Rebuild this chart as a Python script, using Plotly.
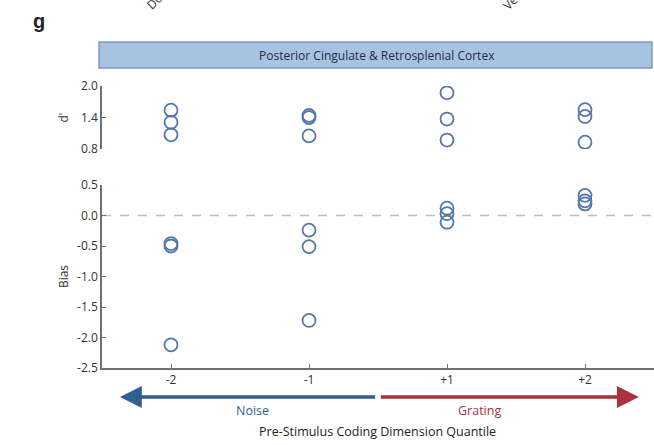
import plotly.graph_objects as go

# Quantile categories along the pre-stimulus coding dimension
quantiles = ["-2", "-1", "+1", "+2"]

# d' per session, grouped by quantile
dprime_q = ["-2", "-2", "-2", "-1", "-1", "-1", "+1", "+1", "+1", "+2", "+2", "+2"]
dprime_vals = [1.54, 1.31, 1.07, 1.44, 1.40, 1.05, 1.87, 1.37, 0.97, 1.55, 1.42, 0.93]

# Bias per session, grouped by quantile
bias_q = ["-2", "-2", "-2", "-1", "-1", "-1", "+1", "+1", "+1", "+2", "+2", "+2"]
bias_vals = [-0.46, -0.50, -2.12, -0.24, -0.51, -1.72, 0.12, 0.03, -0.11, 0.33, 0.24, 0.19]

dprime_ticks = [0.8, 1.4, 2.0]
bias_ticks = [-2.5, -2.0, -1.5, -1.0, -0.5, 0.0, 0.5]

W, H = 654, 445
FONT = "Open Sans"
MARK = "#5478AA"
AXC = "#707070"

pos = {q: i + 1 for i, q in enumerate(quantiles)}


def py(p):
    return 1 - p / H


fig = go.Figure()

marker = dict(symbol="circle-open", size=13, color=MARK, line=dict(width=1.8, color=MARK))

fig.add_trace(go.Scatter(x=[pos[q] for q in dprime_q], y=dprime_vals, mode="markers",
                         marker=marker, xaxis="x2", yaxis="y2", showlegend=False))
fig.add_trace(go.Scatter(x=[pos[q] for q in bias_q], y=bias_vals, mode="markers",
                         marker=marker, xaxis="x", yaxis="y", showlegend=False))

xdom = [102 / W, 1.0]
xr = [0.5, 4.5]

axis_common = dict(showline=True, linecolor=AXC, linewidth=1.5, ticks="inside",
                   ticklen=4, tickcolor=AXC, showgrid=False, zeroline=False,
                   automargin=False)

fig.update_layout(
    template="none",
    width=W, height=H, autosize=False,
    margin=dict(l=0, r=0, t=0, b=0, pad=0),
    paper_bgcolor="white", plot_bgcolor="white",
    font=dict(family=FONT, size=12, color="#333333"),
    xaxis=dict(domain=xdom, range=xr, tickmode="array",
               tickvals=[pos[q] for q in quantiles], ticktext=quantiles,
               anchor="y", tickfont=dict(size=12, color="#333333"), **axis_common),
    yaxis=dict(domain=[py(368), py(185)], range=[-2.5, 0.5], tickmode="array",
               tickvals=bias_ticks, ticktext=[f"{v:.1f}" for v in bias_ticks],
               anchor="x", tickfont=dict(size=12, color="#333333"),
               title=dict(text="Bias", standoff=6, font=dict(size=12)), **axis_common),
    xaxis2=dict(domain=xdom, range=xr, visible=False, anchor="y2", automargin=False),
    yaxis2=dict(domain=[py(149), py(86)], range=[0.8, 2.0], tickmode="array",
                tickvals=dprime_ticks, ticktext=[f"{v:.1f}" for v in dprime_ticks],
                anchor="x2", tickfont=dict(size=12, color="#333333"),
                title=dict(text="d'", standoff=10, font=dict(size=12)), **axis_common),
)

# dashed zero-bias reference line
fig.add_shape(type="line", xref="x", yref="y", x0=xr[0], x1=xr[1], y0=0, y1=0,
              line=dict(color="#BDBDBD", width=1.5, dash="dash"), layer="below")

# region banner
fig.add_shape(type="rect", xref="paper", yref="paper",
              x0=99 / W, x1=652 / W, y0=py(68), y1=py(42),
              fillcolor="#A8C2E2", line=dict(color="#7C9BC4", width=1.5))
fig.add_annotation(xref="paper", yref="paper", x=377 / W, y=py(56),
                   text="Posterior Cingulate & Retrosplenial Cortex", showarrow=False,
                   yanchor="middle", font=dict(size=12, color="#1E2E4A", family=FONT))

# panel letter
fig.add_annotation(xref="paper", yref="paper", x=31 / W, y=py(21),
                   text="<b>g</b>", showarrow=False, yanchor="middle",
                   font=dict(size=20, color="#222222", family="Liberation Sans"))

# clipped rotated labels from the panel above
fig.add_annotation(xref="paper", yref="paper", x=140 / W, y=py(-5),
                   text="Dorsal", textangle=-45, showarrow=False, yanchor="middle",
                   font=dict(size=12, color="#333333"))
fig.add_annotation(xref="paper", yref="paper", x=542 / W, y=py(-7),
                   text="Ventral", textangle=-45, showarrow=False, yanchor="middle",
                   font=dict(size=12, color="#333333"))

# direction arrows under the axis
BLUE = "#2F5F8F"
RED = "#A8323F"
arrow_y = py(397)
fig.add_annotation(xref="x", yref="paper", x=0.63, y=arrow_y,
                   axref="x", ayref="pixel", ax=2.49, ay=0,
                   showarrow=True, arrowhead=2, arrowsize=1.25, arrowwidth=3.5,
                   arrowcolor=BLUE, text="")
fig.add_annotation(xref="x", yref="paper", x=4.39, y=arrow_y,
                   axref="x", ayref="pixel", ax=2.51, ay=0,
                   showarrow=True, arrowhead=2, arrowsize=1.25, arrowwidth=3.5,
                   arrowcolor=RED, text="")
fig.add_annotation(xref="paper", yref="paper", x=253 / W, y=py(410),
                   text="Noise", showarrow=False, yanchor="middle",
                   font=dict(size=12.5, color=BLUE))
fig.add_annotation(xref="paper", yref="paper", x=503 / W, y=py(410),
                   text="Grating", showarrow=False, yanchor="middle",
                   font=dict(size=12.5, color=RED))
fig.add_annotation(xref="paper", yref="paper", x=377 / W, y=py(431),
                   text="Pre-Stimulus Coding Dimension Quantile", showarrow=False,
                   yanchor="middle", font=dict(size=12.5, color="#222222"))

fig.write_html("out.html")
